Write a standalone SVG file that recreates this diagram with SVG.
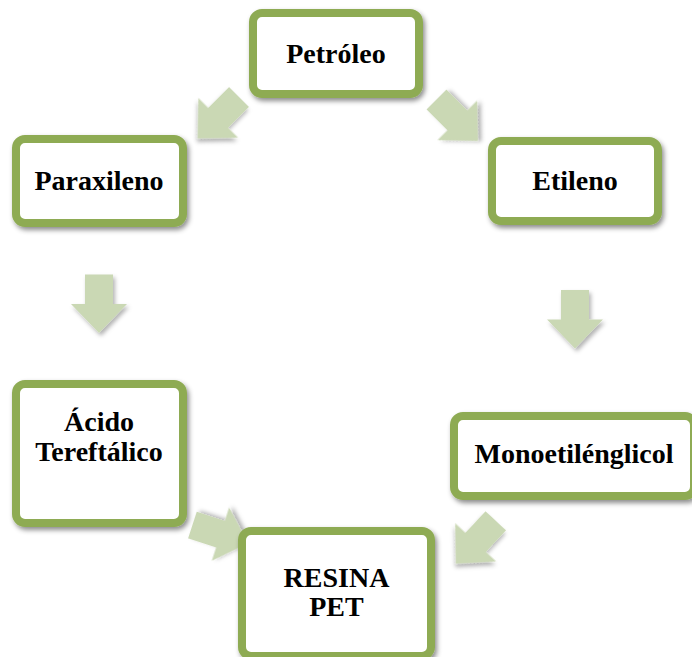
<svg xmlns="http://www.w3.org/2000/svg" width="692" height="657" viewBox="0 0 692 657">
  <defs>
    <filter id="boxShadow" x="-20%" y="-20%" width="140%" height="140%">
      <feDropShadow dx="2" dy="3" stdDeviation="2.5" flood-color="#000" flood-opacity="0.45"/>
    </filter>
    <filter id="arrowShadow" x="-30%" y="-30%" width="160%" height="160%">
      <feDropShadow dx="2" dy="3" stdDeviation="2" flood-color="#000" flood-opacity="0.3"/>
    </filter>
    <!-- block arrow pointing down, centred on the origin -->
    <path id="blockArrow" d="M-14,-29 L14,-29 L14,0.5 L28,0.5 L0,29.5 L-28,0.5 L-14,0.5 Z"/>
  </defs>
  <style>
    .box { fill: #ffffff; stroke: #8eab53; stroke-width: 8; filter: url(#boxShadow); }
    .arrow { fill: #cad8b4; filter: url(#arrowShadow); }
    .label { font-family: "Liberation Serif", "Times New Roman", serif; font-weight: bold; font-size: 28px; fill: #000; text-anchor: middle; }
  </style>
  <rect width="692" height="657" fill="#ffffff"/>

  <g id="connectors">
    <use href="#blockArrow" class="arrow" transform="translate(218.5,117.5) rotate(45)"/>
    <use href="#blockArrow" class="arrow" transform="translate(457,120) rotate(-45)"/>
    <use href="#blockArrow" class="arrow" transform="translate(99,303.5)"/>
    <use href="#blockArrow" class="arrow" transform="translate(575,319)"/>
    <use href="#blockArrow" class="arrow" transform="translate(220,534) rotate(-72)"/>
    <use href="#blockArrow" class="arrow" transform="translate(476,542) rotate(43)"/>
  </g>

  <g id="petroleo">
    <rect class="box" x="253" y="13" width="166" height="81" rx="9"/>
    <text class="label" x="336" y="63">Petróleo</text>
  </g>

  <g id="paraxileno">
    <rect class="box" x="16" y="139" width="167" height="84" rx="9"/>
    <text class="label" x="99" y="190">Paraxileno</text>
  </g>

  <g id="etileno">
    <rect class="box" x="492" y="141" width="166" height="80" rx="9"/>
    <text class="label" x="575" y="190">Etileno</text>
  </g>

  <g id="acido-tereftalico">
    <rect class="box" x="16" y="384" width="167" height="139" rx="9"/>
    <text class="label" x="99" y="431">Ácido</text>
    <text class="label" x="99" y="461">Tereftálico</text>
  </g>

  <g id="monoetilenglicol">
    <rect class="box" x="454" y="416" width="240" height="80" rx="9"/>
    <text class="label" x="574" y="463">Monoetilénglicol</text>
  </g>

  <g id="resina-pet">
    <rect class="box" x="242" y="531" width="189" height="125" rx="9"/>
    <text class="label" x="336.5" y="587">RESINA</text>
    <text class="label" x="336.5" y="616">PET</text>
  </g>
</svg>
